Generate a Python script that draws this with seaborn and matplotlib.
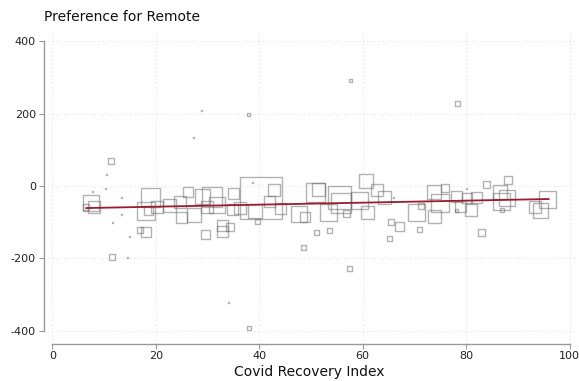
import numpy as np
import pandas as pd
import matplotlib
matplotlib.use("Agg")
import matplotlib.pyplot as plt
import seaborn as sns

# ---- data ----
recovery_index = [
    7.4, 8.0, 6.5, 11.3, 11.5, 18.9, 18.1, 18.5, 16.9, 18.1,
    20.2, 22.7, 24.7, 26.2, 24.9, 27.4, 29.1, 30.9, 29.9, 31.8,
    29.7, 32.8, 32.8, 34.3, 35.1, 34.9, 36.3, 40.3, 39.2, 39.6,
    42.8, 41.9, 44.2, 47.7, 48.8, 50.8, 51.0, 48.5, 55.6, 55.8,
    53.3, 56.8, 53.5, 59.3, 60.6, 61.0, 62.8, 64.3, 65.5, 67.2,
    65.1, 70.5, 71.3, 70.9, 73.8, 73.8, 75.0, 75.9, 78.2, 80.2,
    79.0, 80.9, 82.1, 78.2, 84.0, 82.9, 86.6, 86.9, 87.9, 88.1,
    86.9, 93.3, 94.3, 95.8, 57.5, 38.0, 57.7, 78.4, 38.0, 51.4,
    # tiny points
    10.5, 7.8, 10.3, 13.4, 13.4, 11.7, 15.0, 14.6, 34.0, 28.9,
    27.2, 38.6, 80.0, 65.9,
]
remote_pref = [
    -47, -58, -58, 69, -197, -33, -69, -69, -122, -127,
    -58, -53, -44, -17, -86, -80, -28, -30, -58, -53,
    -133, -108, -127, -113, -22, -64, -61, -33, -69, -97,
    -11, -44, -61, -78, -86, -17, -130, -169, -33, -47,
    -72, -75, -122, -39, 14, -72, -11, -33, -100, -111,
    -144, -72, -55, -119, -17, -83, -47, -6, -30, -33,
    -58, -66, -33, -69, 3, -130, -17, -44, -33, 17,
    -66, -58, -69, -36, -227, -393, 291, 227, 197, -11,
    33, -14, -8, -33, -80, -100, -141, -197, -321, 210,
    133, 11, -8, -33,
]
# relative weight of each point (marker side in px, squared)
weight = [
    256, 144, 36, 36, 36, 361, 324, 81, 36, 100,
    144, 169, 144, 100, 121, 196, 225, 400, 144, 256,
    81, 121, 121, 64, 121, 121, 144, 1764, 196, 25,
    144, 121, 121, 256, 100, 361, 25, 25, 529, 400,
    289, 49, 25, 289, 196, 169, 144, 169, 36, 81,
    25, 289, 36, 25, 196, 169, 324, 64, 121, 100,
    121, 144, 121, 9, 49, 49, 196, 289, 256, 64,
    16, 144, 225, 289, 25, 16, 9, 25, 9, 169,
    1, 1, 1, 1, 1, 1, 1, 1, 1, 1,
    1, 1, 1, 1,
]
# fitted trend
trend_x = [6.5, 96.0]
trend_y = [-61, -36]

x_ticks = [0, 20, 40, 60, 80, 100]
y_ticks = [-400, -200, 0, 200, 400]

df = pd.DataFrame({"Covid Recovery Index": recovery_index,
                   "Preference for Remote": remote_pref,
                   "weight": weight})
trend = pd.DataFrame({"x": trend_x, "y": trend_y})

sns.set_theme(style="white")
plt.rcParams["font.family"] = ["DejaVu Sans"]
plt.rcParams["axes.unicode_minus"] = False

fig = plt.figure(figsize=(5.79, 3.81), dpi=100)
ax = fig.add_axes([0.0753, 0.0982, 0.9173, 0.8215])

px_per_pt = 0.72
wmin, wmax = min(weight), max(weight)
sns.scatterplot(data=df, x="Covid Recovery Index", y="Preference for Remote",
                size="weight", sizes=(wmin * px_per_pt**2, wmax * px_per_pt**2),
                size_norm=(wmin, wmax), marker="s", facecolor="none",
                edgecolor="#666666", linewidth=1.0, alpha=0.5,
                legend=False, ax=ax)

sns.lineplot(data=trend, x="x", y="y", color="#9b1c2c", linewidth=1.3, ax=ax)

ax.set_xlim(-1.7, 101)
ax.set_ylim(-436, 430)
ax.set_xticks(x_ticks)
ax.set_yticks(y_ticks)
ax.grid(True, linestyle=(0, (1, 3)), color="#dcdcdc", linewidth=0.7)
ax.tick_params(axis="both", labelsize=8, labelcolor="#222222", length=3.5,
               width=0.8, direction="out", left=True, bottom=True, pad=2,
               color="#999999")
sns.despine(ax=ax, trim=True)
for s in ("left", "bottom"):
    ax.spines[s].set_color("#999999")
    ax.spines[s].set_linewidth(1.0)

ax.set_xlabel("Covid Recovery Index", fontsize=10, color="#111111", labelpad=3)
ax.set_ylabel("")
ax.set_title("Preference for Remote", loc="left", fontsize=10,
             color="#111111", pad=7)

fig.savefig("out.png", dpi=100)
